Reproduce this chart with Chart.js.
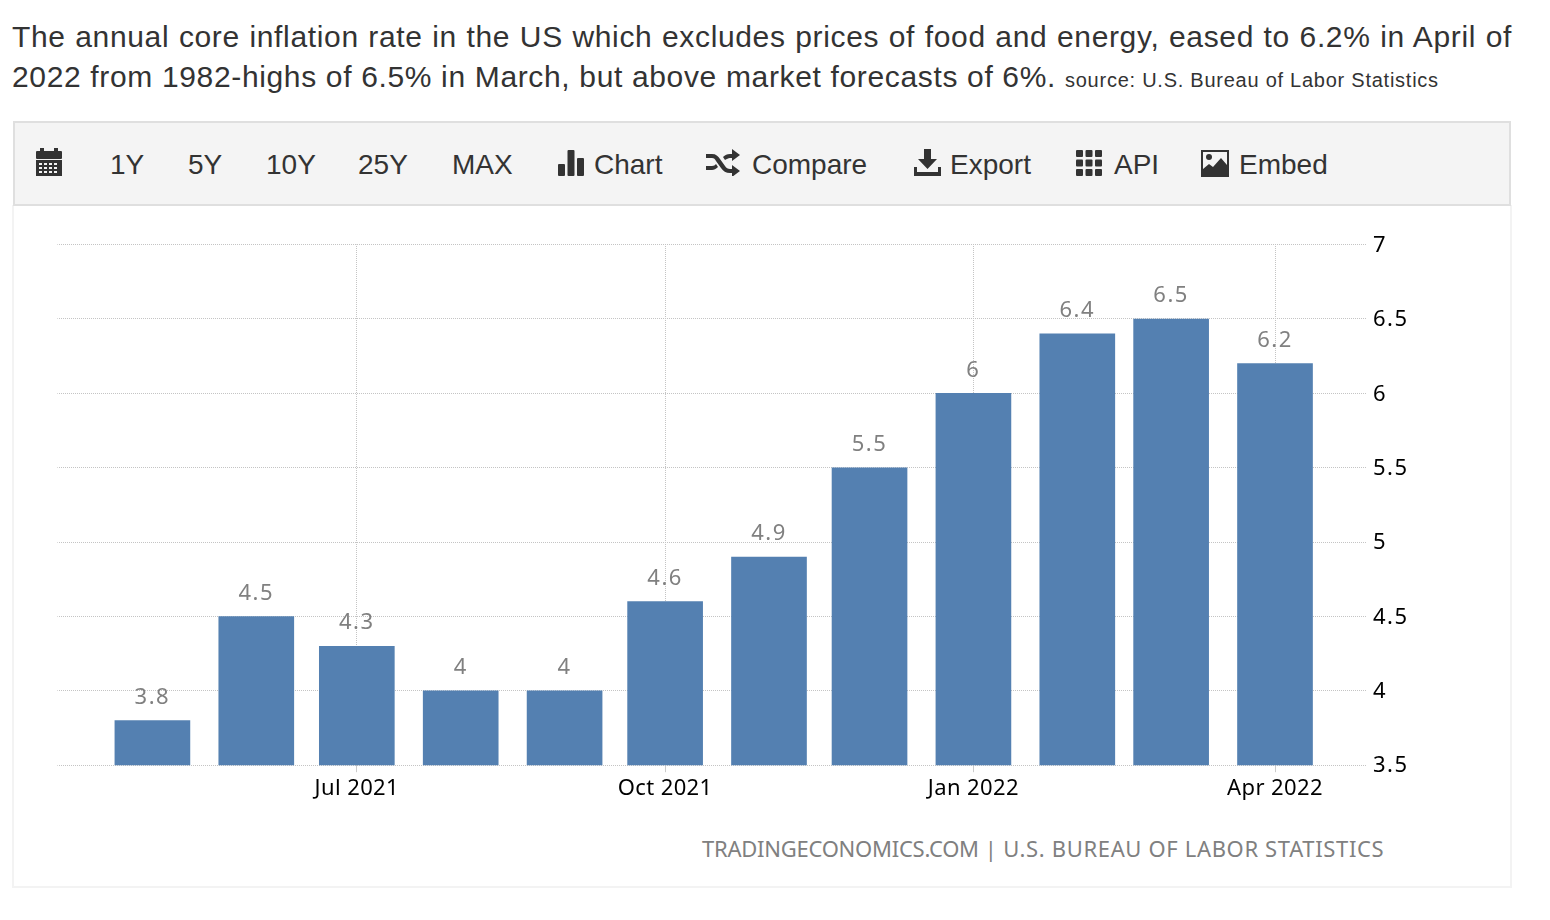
<!DOCTYPE html>
<html><head><meta charset="utf-8">
<script src="https://cdn.jsdelivr.net/npm/chart.js@4"></script>
<style>
html,body{margin:0;padding:0;background:#fff;width:1550px;height:920px;overflow:hidden}
body{position:relative;font-family:"Liberation Sans",Arial,sans-serif;color:#333}
#hdr{position:absolute;left:12px;top:17px;width:1500px;font-size:30px;letter-spacing:.65px;line-height:40px;text-align:justify;color:#333}
#hdr small{font-size:20px;letter-spacing:.75px}
#panel{position:absolute;left:12px;top:205px;width:1496px;height:681px;border:2px solid #f3f3f3;border-top:0}
#bar{position:absolute;left:13px;top:121px;width:1494px;height:81px;background:#f4f4f4;border:2px solid #dfdfdf}
.t{position:absolute;top:148px;font-size:28px;line-height:34px;color:#333;white-space:nowrap}
svg.i{position:absolute;fill:#333}
canvas{position:absolute;left:0;top:0}
#wm{position:absolute;left:702px;top:833px;font-family:"Noto Sans",sans-serif;font-size:22px;line-height:30px;color:#808080;white-space:pre}
</style></head><body>
<div id="hdr">The annual core inflation rate in the US which excludes prices of food and energy, eased to 6.2% in April of 2022 from 1982-highs of 6.5% in March, but above market forecasts of 6%. <small>source: U.S. Bureau of Labor Statistics</small></div>
<div id="panel"></div><div id="bar"></div>
<svg class="i" style="left:35px;top:148px" width="28" height="29" viewBox="0 0 28 29"><rect x="1" y="3" width="26" height="8" rx="1"/><rect x="5" y="0" width="4" height="5"/><rect x="19" y="0" width="4" height="5"/><path fill-rule="evenodd" d="M1 12h26v16H1z M4 15v2h3v-2z M9 15v2h3v-2z M14 15v2h3v-2z M19 15v2h3v-2z M4 19v2h3v-2z M9 19v2h3v-2z M14 19v2h3v-2z M19 19v2h3v-2z M4 23v2h3v-2z M9 23v2h3v-2z M14 23v2h3v-2z M19 23v2h3v-2z"/></svg>
<div class="t" style="left:110px">1Y</div><div class="t" style="left:188px">5Y</div><div class="t" style="left:266px">10Y</div><div class="t" style="left:358px">25Y</div><div class="t" style="left:452px">MAX</div>
<svg class="i" style="left:558px;top:150px" width="26" height="26" viewBox="0 0 26 26"><rect x="0" y="14" width="7" height="12" rx="1"/><rect x="9.500" y="0" width="7" height="26" rx="1"/><rect x="19" y="8" width="7" height="18" rx="1"/></svg>
<div class="t" style="left:594px">Chart</div>
<svg class="i" style="left:706px;top:149px" width="34" height="27" viewBox="0 0 34 27"><path d="M0 5h6c4 0 6 2 8 5l5 7c1 2 3 3 5 3h2v-4l8 6-8 6v-4h-2c-4 0-7-2-9-5l-5-7c-1-2-2-3-4-3H0z"/><path d="M0 17h6c2 0 3-1 4-2l2 3c-2 2-4 3-6 3H0z"/><path d="M17 8c2-2 4-3 7-3h2V0l8 6-8 6V9h-2c-2 0-3 1-5 2z"/></svg>
<div class="t" style="left:752px">Compare</div>
<svg class="i" style="left:914px;top:149px" width="27" height="27" viewBox="0 0 27 27"><path d="M10 0h7v10h6L13.500 20 4 10h6z"/><path d="M0 18h3v5h21v-5h3v9H0z"/></svg>
<div class="t" style="left:950px">Export</div>
<svg class="i" style="left:1076px;top:150px" width="26" height="26" viewBox="0 0 26 26"><rect width="7" height="7" rx="1"/><rect x="9.500" width="7" height="7" rx="1"/><rect x="19" width="7" height="7" rx="1"/><rect y="9.500" width="7" height="7" rx="1"/><rect x="9.500" y="9.500" width="7" height="7" rx="1"/><rect x="19" y="9.500" width="7" height="7" rx="1"/><rect y="19" width="7" height="7" rx="1"/><rect x="9.500" y="19" width="7" height="7" rx="1"/><rect x="19" y="19" width="7" height="7" rx="1"/></svg>
<div class="t" style="left:1114px">API</div>
<svg class="i" style="left:1201px;top:150px" width="28" height="27" viewBox="0 0 28 27"><path fill-rule="evenodd" d="M0 0h28v27H0z M2 2v17l6-5 4 3 8-9 6 7V2z"/><circle cx="8" cy="7" r="3"/></svg>
<div class="t" style="left:1239px">Embed</div>
<div id="wm"><span style="letter-spacing:-.25px">TRADINGECONOMICS.COM</span><span style="letter-spacing:.3px"> | </span><span style="letter-spacing:.65px">U.S. BUREAU OF LABOR STATISTICS</span></div>
<canvas id="c" width="1550" height="920"></canvas>
<script>
const months=["2021-05-01","2021-06-01","2021-07-01","2021-08-01","2021-09-01","2021-10-01","2021-11-01","2021-12-01","2022-01-01","2022-02-01","2022-03-01","2022-04-01"];
const values=[3.8,4.5,4.3,4,4,4.6,4.9,5.5,6,6.4,6.5,6.2];
const tickDates=["2021-07-01","2021-10-01","2022-01-01","2022-04-01"];
const tickLabels=["Jul 2021","Oct 2021","Jan 2022","Apr 2022"];
const yMin=3.5,yMax=7,yStep=0.5;
const day=s=>(Date.parse(s)-Date.parse(months[0]))/864e5;
const tickDays=tickDates.map(day);
const FONT='"Noto Sans",sans-serif';
const textTweaks={id:'textTweaks',
  beforeDraw(ch){
    const y=ch.scales.y,x=ch.scales.x,c=ch.ctx;
    if(!y._spaced){
      const fy=y.drawLabels;
      y.drawLabels=function(a){c.save();c.translate(0,1);c.letterSpacing='1.5px';fy.call(this,a);c.restore();};
      const fx=x.drawLabels;
      x.drawLabels=function(a){c.save();c.letterSpacing='.4px';fx.call(this,a);c.restore();};
      y._spaced=true;
    }
  },
  afterDatasetsDraw(ch){
    const c=ch.ctx,m=ch.getDatasetMeta(0);
    c.save();c.font='22px '+FONT;c.fillStyle='#808080';c.textAlign='center';c.textBaseline='middle';c.letterSpacing='1.5px';
    m.data.forEach((b,i)=>c.fillText(String(values[i]),b.x,b.y-23));
    c.restore();
  }
};
new Chart(document.getElementById('c'),{
  type:'bar',
  data:{datasets:[{data:months.map((s,i)=>({x:day(s),y:values[i]})),backgroundColor:'#5480b1',borderWidth:0,barThickness:75}]},
  options:{responsive:false,animation:false,devicePixelRatio:1,
    layout:{padding:{left:57.4,top:244.6,right:0,bottom:0}},
    plugins:{legend:{display:false},tooltip:{enabled:false}},
    scales:{
      x:{type:'linear',min:-28.35,max:362.45,offset:false,
        afterBuildTicks(a){a.ticks=tickDays.map(v=>({value:v}));},
        afterFit(a){a.height=154.8;},
        grid:{offset:false,color:'#c4c4c4',lineWidth:1,tickLength:7,tickColor:'#cccccc',tickBorderDash:[],drawOnChartArea:true},
        border:{display:false,dash:[1,1],dashOffset:0.6},
        ticks:{autoSkip:false,maxRotation:0,padding:3,color:'#000',font:{family:FONT,size:22},
          callback(v){const i=tickDays.indexOf(v);return i<0?'':tickLabels[i];}}
      },
      y:{position:'right',min:yMin,max:yMax,
        afterFit(a){a.width=183;},
        grid:{color:'#c4c4c4',lineWidth:1,drawTicks:false},
        border:{display:false,dash:[1,1],dashOffset:0.4},
        ticks:{stepSize:yStep,padding:6,color:'#000',font:{family:FONT,size:22},callback:v=>String(v)}
      }
    }
  },
  plugins:[textTweaks]
});
</script>
</body></html>
